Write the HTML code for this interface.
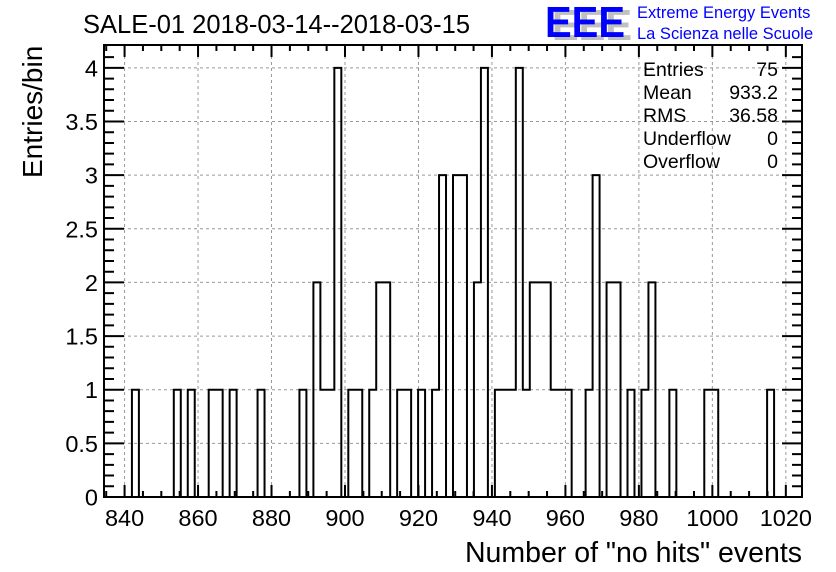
<!DOCTYPE html>
<html><head><meta charset="utf-8"><style>
body{margin:0;background:#fff;}
svg{display:block;font-family:"Liberation Sans",sans-serif;}
</style></head><body>
<svg id="chart" width="836" height="572" viewBox="0 0 836 572">
<rect x="0" y="0" width="836" height="572" fill="#fff"/>
<g id="grid"></g>
<g id="ticks"></g>
<path id="hist" fill="none" stroke="#000" stroke-width="2"/>
<rect x="104" y="45" width="698" height="452" fill="none" stroke="#000" stroke-width="2"/>
<g id="labels" font-size="23.5" fill="#000"></g>
<text x="83" y="33" font-size="25.5">SALE-01 2018-03-14--2018-03-15</text>
<text x="802" y="562" font-size="28.5" text-anchor="end">Number of "no hits" events</text>
<text transform="translate(42,178) rotate(-90)" font-size="28">Entries/bin</text>
<g>
<text x="552" y="40" font-size="44" font-weight="bold" fill="#c0c0c0" textLength="80" lengthAdjust="spacingAndGlyphs">EEE</text>
<text x="545" y="37" font-size="44" font-weight="bold" fill="#0000ff" textLength="80" lengthAdjust="spacingAndGlyphs">EEE</text>
<text x="637" y="18" font-size="16.5" fill="#0000ff">Extreme Energy Events</text>
<text x="637" y="39" font-size="16.5" fill="#0000ff">La Scienza nelle Scuole</text>
</g>
<g font-size="19.5">
<text x="643" y="76">Entries</text><text x="778" y="76" text-anchor="end">75</text>
<text x="643" y="99">Mean</text><text x="778" y="99" text-anchor="end">933.2</text>
<text x="643" y="122">RMS</text><text x="778" y="122" text-anchor="end">36.58</text>
<text x="643" y="145">Underflow</text><text x="778" y="145" text-anchor="end">0</text>
<text x="643" y="168">Overflow</text><text x="778" y="168" text-anchor="end">0</text>
</g>
</svg>
<script>
const xMin = 834.4, binWidth = 1.9;
const counts = [0,0,0,0,1,0,0,0,0,0, 1,0,1,0,0,1,1,0,1,0, 0,0,1,0,0,0,0,0,1,0,
 2,1,1,4,0,1,1,0,1,2, 2,0,1,1,0,1,0,1,3,0, 3,3,0,2,4,0,1,1,1,4,
 1,2,2,2,1,1,1,0,0,1, 3,0,2,2,0,1,0,1,2,0, 0,1,0,0,0,0,1,1,0,0,
 0,0,0,0,0,1,0,0,0,0];
const xTicks = [840,860,880,900,920,940,960,980,1000,1020];
const yTicks = [0,0.5,1,1.5,2,2.5,3,3.5,4];
const yTickLabels = ["0","0.5","1","1.5","2","2.5","3","3.5","4"];
const X0=104, X1=802, Y0=497, Y1=45;
const xMax = xMin + binWidth*counts.length;
const yMax = 4.213;
function sx(v){return X0+(v-xMin)/(xMax-xMin)*(X1-X0);}
function sy(v){return Y0-(v/yMax)*(Y0-Y1);}
const NS="http://www.w3.org/2000/svg";
function mk(tag,parent,attrs){const e=document.createElementNS(NS,tag);for(const k in attrs)e.setAttribute(k,attrs[k]);parent.appendChild(e);return e;}
const grid=document.getElementById('grid'), ticks=document.getElementById('ticks'), labels=document.getElementById('labels');
xTicks.forEach(t=>{
  const l=mk('line',grid,{x1:sx(t),x2:sx(t),y1:Y0,y2:Y1,stroke:'#999','stroke-dasharray':'3,3','stroke-width':1});
  
  
  const tx=mk('text',labels,{x:sx(t),y:526,'text-anchor':'middle'});
  tx.textContent=t;
  
  
});
yTicks.forEach((t,i)=>{
  if(t>0){const l=mk('line',grid,{x1:X0,x2:X1,y1:sy(t),y2:sy(t),stroke:'#999','stroke-dasharray':'3,3','stroke-width':1});
  
  }
  const tx=mk('text',labels,{x:98,y:sy(t)+8.5,'text-anchor':'end'});
  tx.textContent=yTickLabels[i];
  
  
});
let d='';
for(let v=835;v<=1024;v+=5){const x=sx(v);const L=(v%20===0)?12:6;
  d+=`M${x},${Y0}v${-L}M${x},${Y1}v${L}`;}
for(let v=0;v<=4.2;v+=0.1){const y=sy(v);const L=(Math.round(v*10)%5===0)?20:10;
  d+=`M${X0},${y}h${L}M${X1},${y}h${-L}`;}
const tp=mk('path',ticks,{d:d,stroke:'#000','stroke-width':2,fill:'none'});


let hp=`M${sx(xMin)},${sy(0)}`;
counts.forEach((c,i)=>{hp+=`L${sx(xMin+i*binWidth)},${sy(c)}L${sx(xMin+(i+1)*binWidth)},${sy(c)}`;});
hp+=`L${sx(xMax)},${sy(0)}`;
document.getElementById('hist').setAttribute('d',hp);
</script>
</body></html>
